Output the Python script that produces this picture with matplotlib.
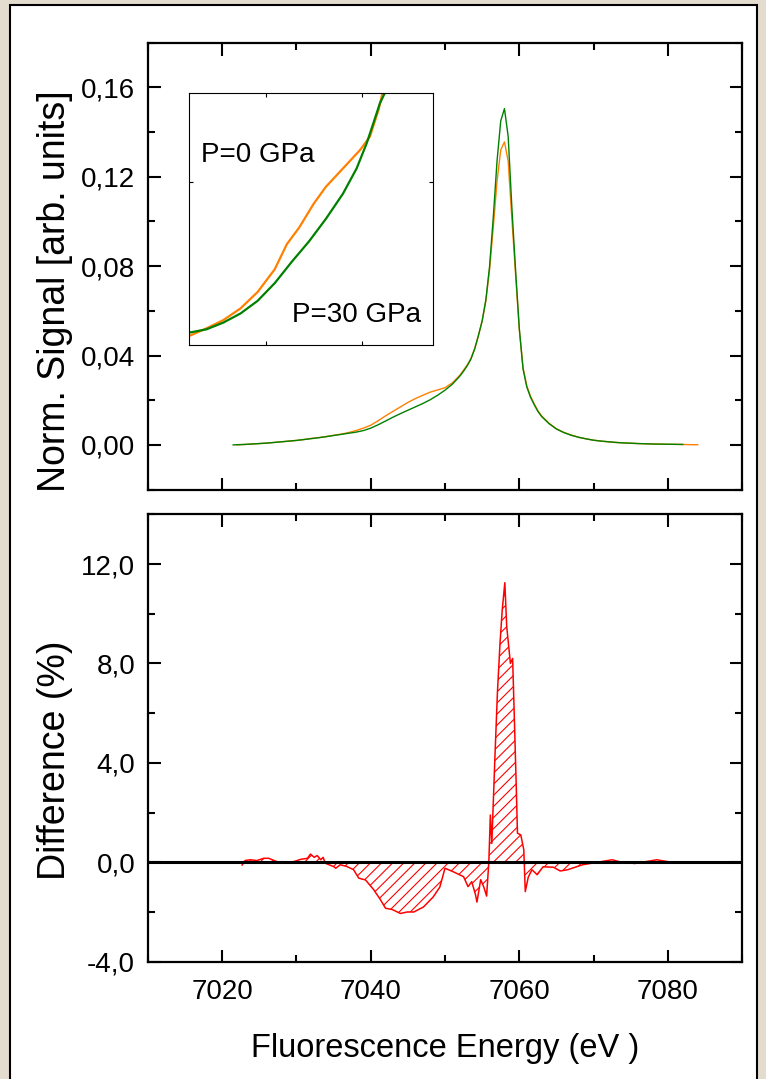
import matplotlib
matplotlib.use("Agg")
import matplotlib.pyplot as plt
from matplotlib.patches import Rectangle
from matplotlib.ticker import MultipleLocator, FixedLocator, FixedFormatter

plt.rcParams['font.family'] = ['Liberation Sans', 'DejaVu Sans']
plt.rcParams['hatch.linewidth'] = 0.8

# ---- emission spectra (normalized) ----
energy = [7021.5, 7022, 7023, 7024, 7025, 7026, 7027, 7028, 7029, 7030, 7031, 7032,
          7033, 7034, 7035, 7036, 7037, 7038, 7039, 7040, 7041, 7042, 7043, 7044,
          7045, 7046, 7047, 7048, 7049, 7050, 7051, 7052, 7052.5, 7053, 7053.5,
          7054, 7054.5, 7055, 7055.5, 7056, 7056.5, 7057, 7057.5, 7058, 7058.5,
          7059, 7059.5, 7060, 7060.5, 7061, 7061.5, 7062, 7062.5, 7063, 7064,
          7065, 7066, 7067, 7068, 7069, 7070, 7071, 7072, 7073, 7074, 7076,
          7078, 7080, 7082]

signal_p30 = [0.0000, 0.0001, 0.0002, 0.0004, 0.0006, 0.0008, 0.0011, 0.0014, 0.0017,
              0.0020, 0.0024, 0.0028, 0.0032, 0.0037, 0.0042, 0.0047, 0.0052, 0.0057,
              0.0064, 0.0075, 0.0090, 0.0107, 0.0124, 0.0140, 0.0155, 0.0170, 0.0185,
              0.0202, 0.0222, 0.0245, 0.0272, 0.0308, 0.0330, 0.0355, 0.0385, 0.0430,
              0.0490, 0.0555, 0.0650, 0.0800, 0.1020, 0.1270, 0.1450, 0.1505, 0.1380,
              0.1060, 0.0780, 0.0520, 0.0340, 0.0260, 0.0214, 0.0180, 0.0150, 0.0127,
              0.0095, 0.0071, 0.0055, 0.0043, 0.0034, 0.0027, 0.0021, 0.0017, 0.0014,
              0.0011, 0.0009, 0.0006, 0.0004, 0.0003, 0.0002]

energy_p0 = energy[1:] + [7083, 7084]
signal_p0 = [0.0000, 0.0002, 0.0004, 0.0006, 0.0008, 0.0011, 0.0014, 0.0017,
             0.0020, 0.0024, 0.0029, 0.0033, 0.0037, 0.0043, 0.0048, 0.0055, 0.0064,
             0.0075, 0.0088, 0.0108, 0.0130, 0.0150, 0.0170, 0.0190, 0.0207, 0.0222,
             0.0236, 0.0246, 0.0256, 0.0278, 0.0312, 0.0335, 0.0358, 0.0388, 0.0432,
             0.0490, 0.0555, 0.0645, 0.0785, 0.0975, 0.1180, 0.1320, 0.1356, 0.1270,
             0.1010, 0.0760, 0.0515, 0.0345, 0.0265, 0.0218, 0.0184, 0.0153, 0.0130,
             0.0097, 0.0072, 0.0056, 0.0044, 0.0034, 0.0027, 0.0021, 0.0017, 0.0014,
             0.0011, 0.0009, 0.0006, 0.0004, 0.0003, 0.0002, 0.0001, 0.0001]

# ---- zoom on the pre-edge shoulder ----
zoom_e_p30 = [7030.00, 7031.78, 7033.56, 7035.33, 7037.11, 7038.89, 7040.67, 7042.45,
              7044.22, 7046.00, 7047.42, 7048.47, 7049.15, 7049.84, 7050.37]
zoom_s_p30 = [0.00167, 0.00211, 0.00303, 0.00425, 0.00595, 0.00833, 0.01122, 0.01394,
              0.01700, 0.02040, 0.02380, 0.02720, 0.02985, 0.03257, 0.03400]
zoom_e_p0 = [7030.00, 7031.78, 7033.56, 7035.33, 7037.11, 7038.89, 7040.16, 7041.43,
             7042.95, 7044.22, 7046.00, 7047.78, 7048.80, 7049.69, 7050.12]
zoom_s_p0 = [0.00122, 0.00224, 0.00337, 0.00493, 0.00714, 0.01020, 0.01360, 0.01581,
             0.01904, 0.02132, 0.02380, 0.02628, 0.02808, 0.03165, 0.03400]

# ---- difference spectrum (%) ----
diff_energy = [7022.7, 7023.1, 7023.8, 7024.7, 7025.6, 7026.3, 7027.0, 7027.7, 7028.8,
               7029.7, 7030.6, 7031.5, 7031.9, 7032.4, 7032.8, 7033.3, 7033.6, 7033.9,
               7034.4, 7035.0, 7035.3, 7035.9, 7036.8, 7037.7, 7038.4, 7039.3, 7040.4,
               7041.3, 7042.0, 7042.9, 7044.0, 7044.9, 7045.8, 7047.1, 7048.4, 7049.3,
               7050.0, 7051.1, 7052.5, 7053.1, 7053.6, 7054.1, 7054.3, 7054.8, 7055.2,
               7055.6, 7055.9, 7056.1, 7056.3, 7056.7, 7057.05, 7057.4, 7057.7, 7058.05,
               7058.3, 7058.8, 7059.1, 7059.3, 7059.55, 7059.75, 7060.2, 7060.6, 7060.8,
               7061.2, 7061.7, 7062.4, 7063.2, 7064.6, 7065.5, 7066.5, 7067.5, 7068.5,
               7069.5, 7070.5, 7071.5, 7072.5, 7073.5, 7074.5, 7075.5, 7076.5, 7077.5,
               7078.5, 7079.5, 7080.5, 7081.5, 7082.0]
diff_percent = [-0.11, 0.07, 0.10, 0.07, 0.16, 0.16, 0.07, -0.01, 0.00,
                0.03, 0.12, 0.16, 0.33, 0.20, 0.27, 0.10, 0.20, -0.04,
                -0.10, -0.17, -0.24, -0.10, -0.17, -0.30, -0.64, -0.71, -1.10,
                -1.50, -1.85, -1.90, -2.06, -2.00, -2.00, -1.80, -1.40, -1.00,
                -0.24, -0.38, -0.58, -0.98, -0.78, -1.30, -1.60, -0.70, -0.98,
                -1.36, 0.03, 1.90, 0.76, 4.10, 6.80, 8.80, 10.15, 11.25,
                9.50, 8.00, 8.20, 6.10, 3.45, 1.17, 1.10, 0.50, -1.18,
                -0.60, -0.30, -0.50, -0.18, -0.20, -0.35, -0.30, -0.20, -0.10,
                -0.05, 0.00, 0.05, 0.10, 0.02, 0.00, -0.05, 0.00, 0.05,
                0.10, 0.05, 0.00, 0.02, 0.00]

# ---- axis settings ----
x_range = (7010, 7090)
x_ticks = [7020, 7040, 7060, 7080]
x_ticklabels = ['7020', '7040', '7060', '7080']
sig_ticks = [0.00, 0.04, 0.08, 0.12, 0.16]
sig_ticklabels = ['0,00', '0,04', '0,08', '0,12', '0,16']
diff_ticks = [-4, 0, 4, 8, 12]
diff_ticklabels = ['-4,0', '0,0', '4,0', '8,0', '12,0']

W, H = 766, 1079
fig = plt.figure(figsize=(W / 100, H / 100), dpi=100, facecolor='#e4ddcf')
fig.patches.append(Rectangle((10 / W, -0.01), (757 - 10) / W, 1 - 5 / H + 0.01,
                             transform=fig.transFigure, facecolor='white',
                             edgecolor='black', linewidth=1.5, zorder=-10))


def style_axes(ax, minor_x, minor_y, major_len=9, minor_len=5, width=1.5):
    for s in ax.spines.values():
        s.set_linewidth(1.6)
    ax.tick_params(which='both', direction='in', top=True, right=True, width=width)
    ax.tick_params(which='major', length=major_len)
    ax.tick_params(which='minor', length=minor_len)
    ax.xaxis.set_minor_locator(MultipleLocator(minor_x))
    ax.yaxis.set_minor_locator(MultipleLocator(minor_y))


left, width = 147.7 / W, (742.3 - 147.7) / W
ax1 = fig.add_axes([left, 1 - 489.6 / H, width, (489.6 - 42.7) / H])
ax2 = fig.add_axes([left, 1 - 961.7 / H, width, (961.7 - 514.3) / H])

# top panel: spectra
ax1.plot(energy_p0, signal_p0, color='#ff8000', lw=1.0)
ax1.plot(energy, signal_p30, color='#008000', lw=1.0)
ax1.set_xlim(*x_range)
ax1.set_ylim(-0.02, 0.18)
ax1.xaxis.set_major_locator(FixedLocator(x_ticks))
ax1.set_xticklabels([])
ax1.yaxis.set_major_locator(FixedLocator(sig_ticks))
ax1.yaxis.set_major_formatter(FixedFormatter(sig_ticklabels))
style_axes(ax1, 10, 0.02)
ax1.tick_params(axis='y', labelsize=20, pad=9)
ax1.set_ylabel('Norm. Signal [arb. units]', fontsize=27)
ax1.yaxis.set_label_coords(-0.125, 0.445)

# inset
axi = fig.add_axes([189.3 / W, 1 - 345 / H, (433.3 - 189.3) / W, (345 - 92.7) / H])
axi.plot(zoom_e_p0, zoom_s_p0, color='#ff8000', lw=1.6)
axi.plot(zoom_e_p30, zoom_s_p30, color='#008000', lw=1.6)
axi.set_xlim(7030, 7055.4)
axi.set_ylim(0, 0.034)
axi.set_xticks([7038, 7048])
axi.set_yticks([0.022])
axi.tick_params(direction='in', top=True, right=True, length=3, width=0.8,
                labelbottom=False, labelleft=False)
for s in axi.spines.values():
    s.set_linewidth(0.8)
axi.annotate('P=0 GPa', xy=(201 / W, 1 - 161.7 / H), xycoords='figure fraction',
             fontsize=20, va='baseline')
axi.annotate('P=30 GPa', xy=(291.7 / W, 1 - 321.7 / H), xycoords='figure fraction',
             fontsize=20, va='baseline')

# bottom panel: difference
ax2.fill_between(diff_energy, diff_percent, 0, facecolor='none', edgecolor='red',
                 hatch='///', linewidth=0)
ax2.plot(diff_energy, diff_percent, color='red', lw=1.1)
ax2.axhline(0, color='black', lw=2.2, zorder=3)
ax2.set_xlim(*x_range)
ax2.set_ylim(-4, 14)
ax2.xaxis.set_major_locator(FixedLocator(x_ticks))
ax2.xaxis.set_major_formatter(FixedFormatter(x_ticklabels))
ax2.yaxis.set_major_locator(FixedLocator(diff_ticks))
ax2.yaxis.set_major_formatter(FixedFormatter(diff_ticklabels))
style_axes(ax2, 10, 2)
ax2.tick_params(axis='both', labelsize=20)
ax2.tick_params(axis='y', pad=9)
ax2.tick_params(axis='x', pad=12.5)
ax2.set_ylabel('Difference (%)', fontsize=27)
ax2.yaxis.set_label_coords(-0.125, 0.45)
ax2.set_xlabel('Fluorescence Energy (eV )', fontsize=23.5, labelpad=20)

fig.savefig('out.png', dpi=100, facecolor=fig.get_facecolor())
